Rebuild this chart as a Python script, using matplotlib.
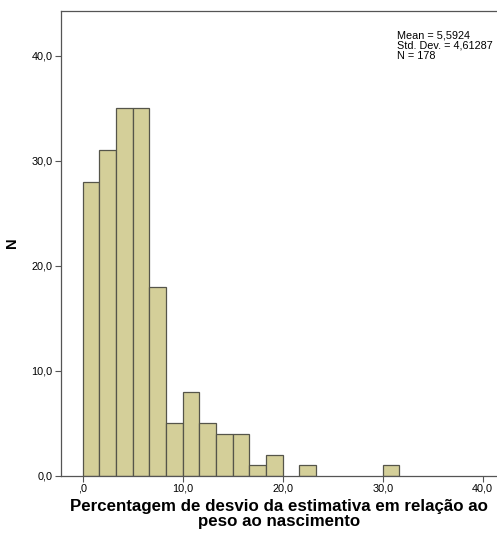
import numpy as np
import matplotlib
matplotlib.use("Agg")
import matplotlib.pyplot as plt

plt.rcParams['font.family'] = ['Liberation Sans', 'DejaVu Sans']

# histogram of the % deviation, bins of 1.667
bin_width = 5 / 3
counts = [28, 31, 35, 35, 18, 5, 8, 5, 4, 4, 1, 2, 0, 1,
          0, 0, 0, 0, 1]
bin_left = [i * bin_width for i in range(len(counts))]
stats = ["Mean = 5,5924", "Std. Dev. = 4,61287", "N = 178"]
xticks = [0, 10, 20, 30, 40]
xticklabels = [",0", "10,0", "20,0", "30,0", "40,0"]
yticks = [0, 10, 20, 30, 40]
yticklabels = ["0,0", "10,0", "20,0", "30,0", "40,0"]

fig = plt.figure(figsize=(4.97, 5.35), dpi=100)
ax = fig.add_axes([0.1221, 0.1112, 0.8779, 0.8688])

heights = np.array(counts)
keep = heights > 0
ax.bar(np.array(bin_left)[keep], heights[keep], width=bin_width, align='edge',
       color='#d4cf99', edgecolor='#55554a', linewidth=0.9)

ax.set_xlim(-2.2, 41.43)
ax.set_ylim(0, 44.3)
ax.set_xticks(xticks)
ax.set_xticklabels(xticklabels)
ax.set_yticks(yticks)
ax.set_yticklabels(yticklabels)
ax.tick_params(labelsize=7.8, length=4, width=0.8, color='#555555', pad=2)
for s in ['left', 'bottom', 'top']:
    ax.spines[s].set_color('#555555')
    ax.spines[s].set_linewidth(0.9)
ax.spines['right'].set_visible(False)

ax.set_xlabel("Percentagem de desvio da estimativa em relação ao\npeso ao nascimento",
              fontsize=12.2, fontweight='bold', linespacing=1.0, labelpad=4)
ax.set_ylabel("N", fontsize=10.5, fontweight='bold')
ax.yaxis.set_label_coords(-0.096, 0.5)

fig.text(397 / 497, 1 - 46 / 535, "\n".join(stats), fontsize=7.8, va='center',
         ha='left', linespacing=1.0)

fig.savefig("out.png", dpi=100)
